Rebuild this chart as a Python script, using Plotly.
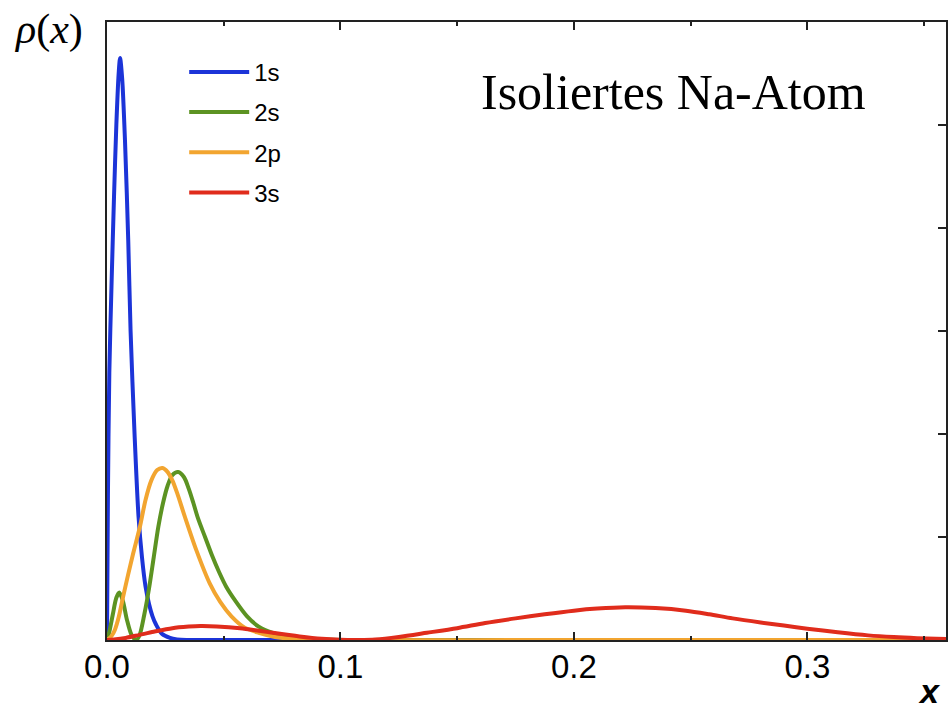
import plotly.graph_objects as go

# ---- data (x in arbitrary units, rho in arbitrary units) ----
x_1s = [0, 0.0004, 0.001, 0.002, 0.003, 0.004, 0.005, 0.0056, 0.0065, 0.0077, 0.0091,
        0.0101, 0.0118, 0.0135, 0.015, 0.0165, 0.018, 0.0195, 0.021, 0.0235, 0.027,
        0.030, 0.034, 0.06, 0.1, 0.2, 0.36]
y_1s = [0, 1.4, 2.6, 3.5, 4.3, 5.0, 5.5, 5.65, 5.45, 4.85, 3.88,
        3.0, 2.0, 1.2, 0.8, 0.52, 0.35, 0.23, 0.15, 0.06, 0.02,
        0.006, 0, 0, 0, 0, 0]

x_2s = [0, 0.001, 0.0025, 0.004, 0.0053, 0.0068, 0.0085, 0.0105, 0.0125, 0.014, 0.016,
        0.018, 0.020, 0.022, 0.024, 0.026, 0.028, 0.0305, 0.033, 0.035, 0.037, 0.039,
        0.042, 0.045, 0.048, 0.051, 0.055, 0.06, 0.065, 0.071, 0.078, 0.088, 0.1,
        0.2, 0.36]
y_2s = [0, 0.08, 0.25, 0.41, 0.46, 0.38, 0.2, 0.05, 0, 0.05, 0.25,
        0.5, 0.8, 1.1, 1.33, 1.5, 1.6, 1.63, 1.58, 1.47, 1.33, 1.18,
        1.0, 0.82, 0.66, 0.52, 0.38, 0.23, 0.13, 0.07, 0.03, 0.01, 0,
        0, 0]

x_2p = [0, 0.002, 0.0034, 0.005, 0.0069, 0.009, 0.0112, 0.0141, 0.0165, 0.019, 0.0215,
        0.0238, 0.026, 0.028, 0.030, 0.0333, 0.0383, 0.044, 0.0485, 0.0533, 0.059, 0.065,
        0.072, 0.08, 0.095, 0.2, 0.36]
y_2p = [0, 0.04, 0.1, 0.22, 0.42, 0.63, 0.84, 1.1, 1.36, 1.55, 1.65,
        1.67, 1.63, 1.55, 1.43, 1.2, 0.87, 0.55, 0.37, 0.23, 0.12, 0.07,
        0.03, 0.01, 0, 0, 0]

x_3s = [0, 0.003, 0.008, 0.014, 0.02, 0.028, 0.035, 0.04, 0.047, 0.057, 0.065, 0.071,
        0.0825, 0.092, 0.1, 0.108, 0.115, 0.125, 0.137, 0.15, 0.162, 0.175, 0.1875,
        0.2, 0.21, 0.222, 0.235, 0.248, 0.258, 0.268, 0.28, 0.29, 0.3, 0.313, 0.326,
        0.337, 0.347, 0.36]
y_3s = [0, 0.005, 0.02, 0.05, 0.08, 0.115, 0.13, 0.136, 0.132, 0.115, 0.09, 0.07,
        0.035, 0.012, 0.002, 0, 0.005, 0.03, 0.07, 0.115, 0.165, 0.21, 0.25,
        0.285, 0.305, 0.318, 0.31, 0.285, 0.25, 0.21, 0.17, 0.14, 0.11, 0.075, 0.045,
        0.028, 0.018, 0.01]

names = ["1s", "2s", "2p", "3s"]
colors = ["#1c34d8", "#5c9322", "#f2a530", "#e02c1c"]
series = [(x_1s, y_1s), (x_2s, y_2s), (x_2p, y_2p), (x_3s, y_3s)]

x_tickvals = [0.0, 0.1, 0.2, 0.3]
x_ticktext = ["0.0", "0.1", "0.2", "0.3"]

fig = go.Figure()
for i, (name, col, (xs, ys)) in enumerate(zip(names, colors, series)):
    fig.add_trace(go.Scatter(
        x=xs, y=ys, mode="lines", name=name, legendgroup=name,
        line=dict(color=col, width=4, shape="spline", smoothing=0.8),
    ))

fig.update_layout(
    width=950, height=710,
    margin=dict(l=107, r=2, t=22, b=70),
    paper_bgcolor="white", plot_bgcolor="white",
    showlegend=True,
    legend=dict(
        x=0.092, y=0.955, xanchor="left", yanchor="top",
        font=dict(family="Liberation Sans, Arial, sans-serif", size=24, color="black"),
        bgcolor="rgba(0,0,0,0)", tracegroupgap=6, itemwidth=60,
    ),
    xaxis=dict(
        range=[0, 0.3594], showgrid=False, zeroline=False,
        showline=True, linecolor="#222", linewidth=1.5, mirror="ticks",
        ticks="inside", ticklen=8, tickwidth=1.5, tickcolor="#222",
        tickvals=x_tickvals, ticktext=x_ticktext,
        minor=dict(ticks="inside", ticklen=4, tickwidth=1.5, tickcolor="#222", dtick=0.05, showgrid=False),
        tickfont=dict(family="Liberation Sans, Arial, sans-serif", size=33, color="black"),
        ticklabelstandoff=-3,
    ),
    yaxis=dict(
        range=[0, 6], showgrid=False, zeroline=False,
        showline=True, linecolor="#222", linewidth=1.5, mirror=True,
        ticks="", showticklabels=False,
    ),
    yaxis2=dict(
        range=[0, 6], overlaying="y", side="right", showgrid=False, zeroline=False,
        showline=False, ticks="inside", ticklen=8, tickwidth=1.5, tickcolor="#222",
        dtick=1, tick0=0, showticklabels=False,
    ),
    annotations=[
        dict(text="Isoliertes Na-Atom", x=0.675, y=0.887, xref="paper", yref="paper",
             xanchor="center", yanchor="middle", showarrow=False,
             font=dict(family="Liberation Serif, Times New Roman, serif", size=50, color="black")),
        dict(text="<i>ρ</i>(<i>x</i>)", x=(48 - 107) / 841, y=(640 - 30) / 618, xref="paper", yref="paper",
             xanchor="center", yanchor="middle",
             showarrow=False, font=dict(family="Liberation Serif, serif", size=42, color="black")),
        dict(text="<b><i>x</i></b>", x=0.98, y=-0.083, xref="paper", yref="paper",
             xanchor="center", yanchor="middle", showarrow=False,
             font=dict(family="Liberation Sans, Arial, sans-serif", size=34, color="black")),
    ],
)
fig.add_trace(go.Scatter(x=[None], y=[None], yaxis="y2", showlegend=False, hoverinfo="skip"))

fig.write_html("out.html")
